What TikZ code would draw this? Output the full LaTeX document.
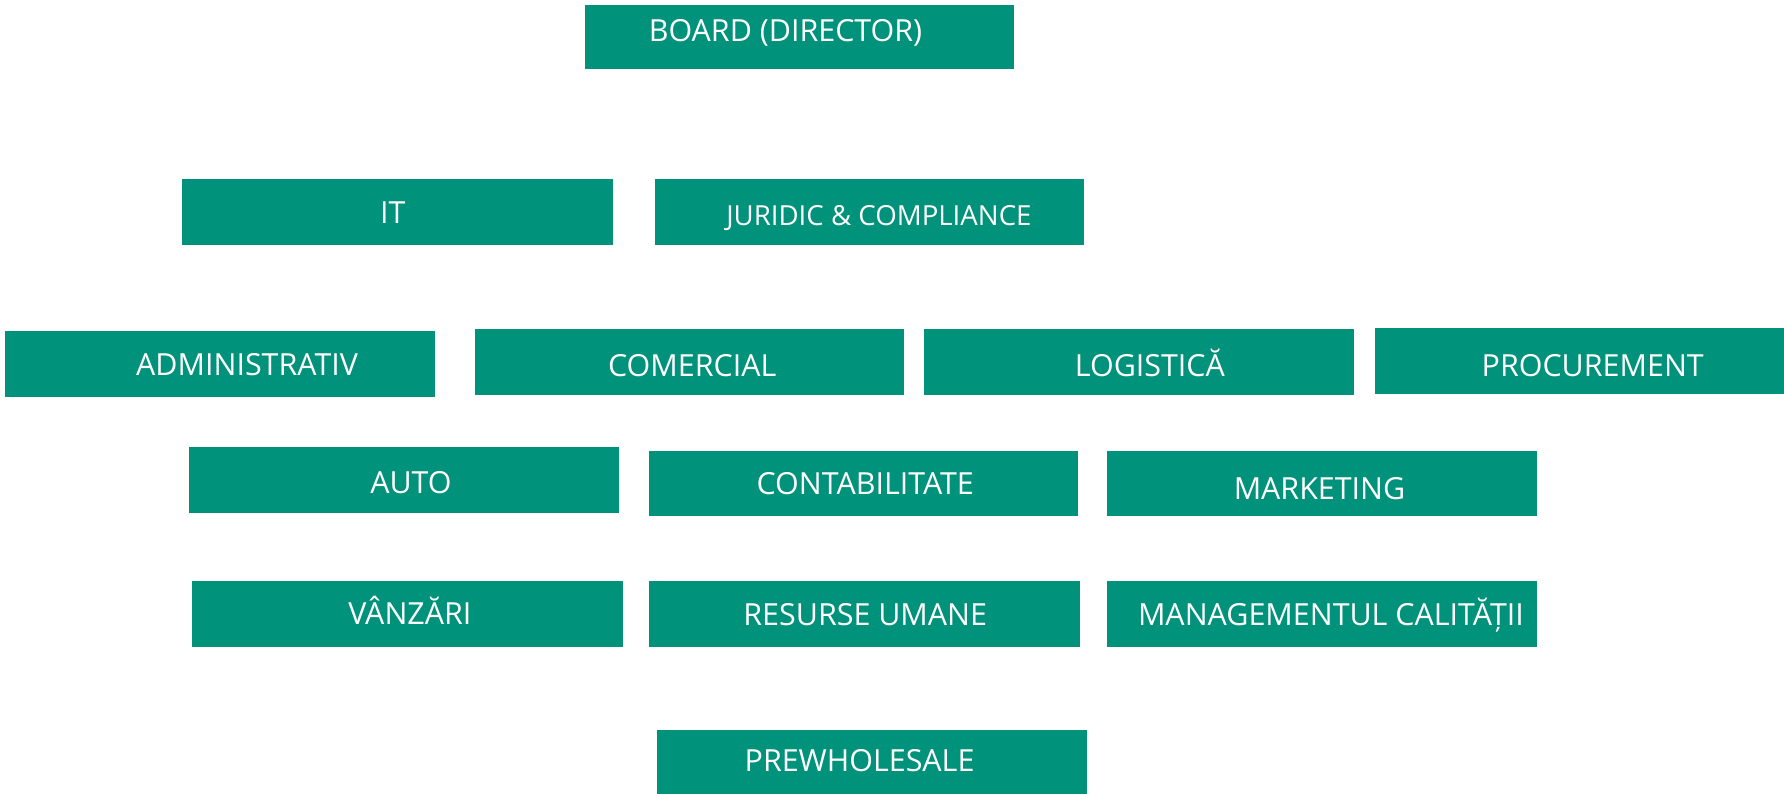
\documentclass[tikz,border=0pt]{standalone}
\usepackage{fontspec}
\setmainfont{Open Sans}
\usepackage{xcolor}
\usetikzlibrary{positioning}
\definecolor{deptgreen}{RGB}{0,146,122}
\tikzset{
  deptbox/.style={rectangle, fill=deptgreen, draw=none, inner sep=0pt},
  depttext/.style={text=white, font=\fontsize{7.6}{9}\selectfont, inner sep=0pt, anchor=base}
}

\begin{document}
\begin{tikzpicture}[x=0.01cm, y=-0.01cm]
    \useasboundingbox (0,0) rectangle (1567,697);

    % departments: name / left / top / right / bottom / text x / text y / label
    \foreach \n/\l/\t/\r/\b/\tx/\ty/\txt in {
        board/514/4/891/61/690/27/BOARD (DIRECTOR),
        it/160/157/538/215/345/187/IT,
        juridic/575/157/952/215/772/189/{\fontsize{6.9}{8}\selectfont JURIDIC \& COMPLIANCE},
        admin/4/291/382/349/217/320/ADMINISTRATIV,
        comercial/417/289/794/347/608/321/COMERCIAL,
        logistica/812/289/1189/347/1010/321/LOGISTICĂ,
        procurement/1208/288/1567/346/1399/321/PROCUREMENT,
        auto/166/393/544/451/361/424/AUTO,
        contab/570/396/947/453/760/425/CONTABILITATE,
        marketing/972/396/1350/453/1159/429/MARKETING,
        vanzari/169/510/547/568/360/539/VÂNZĂRI,
        hr/570/510/949/568/760/540/RESURSE UMANE,
        calitate/972/510/1350/568/1169/540/MANAGEMENTUL CALITĂȚII,
        prewholesale/577/641/955/697/755/668/PREWHOLESALE%
    } {
        \node[deptbox, minimum width={(\r-\l)*0.01cm}, minimum height={(\b-\t)*0.01cm}]
            (\n) at ({(\l+\r)/2},{(\t+\b)/2}) {};
        \node[depttext] (\n-txt) at (\tx,\ty+9.5) {\txt};
    }

\end{tikzpicture}
\end{document}
